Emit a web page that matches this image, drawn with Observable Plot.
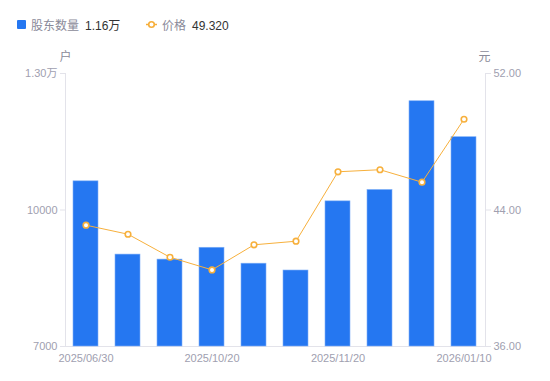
<!DOCTYPE html>
<html><head><meta charset="utf-8">
<script src="https://cdn.jsdelivr.net/npm/d3@7"></script>
<script src="https://cdn.jsdelivr.net/npm/@observablehq/plot@0.6"></script>
<style>
body{margin:0;background:#fff;font-family:"Liberation Sans",Arial,"Noto Sans CJK SC",sans-serif;}
#legend{position:relative;height:45px;width:550px;font-size:12px;}
#legend span{position:absolute;top:19px;line-height:15px;white-space:nowrap;}
.lab{color:#8a8a99;}
.val{color:#333;}
#chart svg{display:block;}
</style></head><body>
<div id="legend">
  <span style="left:17px;top:20px;width:9px;height:9px;background:#2577F1;border-radius:1px"></span>
  <span class="lab" style="left:31px">股东数量</span>
  <span class="val" id="v1" style="left:85px"></span>
  <span style="left:146px;top:17px;width:11px;height:15px">
    <svg width="11" height="15"><line x1="0" x2="11" y1="7.5" y2="7.5" stroke="#F6AE3A" stroke-width="1.5"/><circle cx="5.5" cy="7.5" r="2.8" fill="#fff" stroke="#F6AE3A" stroke-width="1.6"/></svg>
  </span>
  <span class="lab" style="left:162px">价格</span>
  <span class="val" id="v2" style="left:192px"></span>
</div>
<div id="chart"></div>
<script>
const dates = ["2025/06/30","2025/08/31","2025/09/30","2025/10/20","2025/10/31","2025/11/10","2025/11/20","2025/12/10","2025/12/31","2026/01/10"];
const holders = [10630, 9020, 8910, 9170, 8820, 8670, 10190, 10440, 12390, 11600];
const prices = [43.11, 42.58, 41.23, 40.49, 41.96, 42.17, 46.24, 46.36, 45.63, 49.32];
const leftTicks = [7000, 10000, 13000];
const rightTicks = [36, 44, 52];
const xTickLabels = ["2025/06/30","2025/10/20","2025/11/20","2026/01/10"];
const units = ["户", "元"];

const yMin = leftTicks[0], yMax = leftTicks[leftTicks.length-1];
const pMin = rightTicks[0], pMax = rightTicks[rightTicks.length-1];
const toY = p => yMin + (p - pMin) / (pMax - pMin) * (yMax - yMin);
const fromY = y => pMin + (y - yMin) / (yMax - yMin) * (pMax - pMin);

const data = dates.map((d, i) => ({date: d, holders: holders[i], price: prices[i], py: toY(prices[i])}));

document.getElementById("v1").textContent = (holders[holders.length-1] / 10000).toFixed(2) + "万";
document.getElementById("v2").textContent = prices[prices.length-1].toFixed(3);

const axisColor = "#e3e3ea";
const tickText = "#a0a0b0";

const chart = Plot.plot({
  width: 550,
  height: 336,
  marginTop: 28,
  marginBottom: 35,
  marginLeft: 65,
  marginRight: 65,
  style: {fontFamily: '"Liberation Sans", Arial, "Noto Sans CJK SC", sans-serif', fontSize: "11px", background: "#fff"},
  x: {type: "band", domain: dates, paddingInner: 0.4, paddingOuter: 0.2},
  y: {domain: [yMin, yMax]},
  marks: [
    Plot.frame({anchor: "left", stroke: axisColor}),
    Plot.frame({anchor: "right", stroke: axisColor}),
    Plot.frame({anchor: "bottom", stroke: axisColor}),
    Plot.barY(data, {x: "date", y1: yMin, y2: "holders", fill: "#2577F1", stroke: "#7fb0f7", strokeWidth: 0.6}),
    Plot.line(data, {x: "date", y: "py", stroke: "#F7B03C", strokeWidth: 1}),
    Plot.dot(data, {x: "date", y: "py", r: 2.8, fill: "#fff", stroke: "#F7B03C", strokeWidth: 1.6}),
    Plot.axisY({anchor: "left", ticks: leftTicks, tickSize: 5, tickPadding: 3, stroke: axisColor, color: tickText,
      tickFormat: d => d > 10000 ? (d / 10000).toFixed(2) + "万" : String(d), label: null}),
    Plot.axisY({anchor: "right", ticks: rightTicks.map(toY), tickSize: 5, tickPadding: 3, stroke: axisColor, color: tickText,
      tickFormat: d => fromY(d).toFixed(2), label: null}),
    Plot.axisX({ticks: xTickLabels, tickSize: 0, tickPadding: 8, color: tickText, label: null}),
    Plot.text([units[0]], {frameAnchor: "top-left", lineAnchor: "middle", dx: -6, dy: -16, fill: "#8a8a99", fontSize: 12}),
    Plot.text([units[1]], {frameAnchor: "top-right", lineAnchor: "middle", dx: 5, dy: -16, fill: "#8a8a99", fontSize: 12})
  ]
});
document.getElementById("chart").appendChild(chart);
</script>
</body></html>
